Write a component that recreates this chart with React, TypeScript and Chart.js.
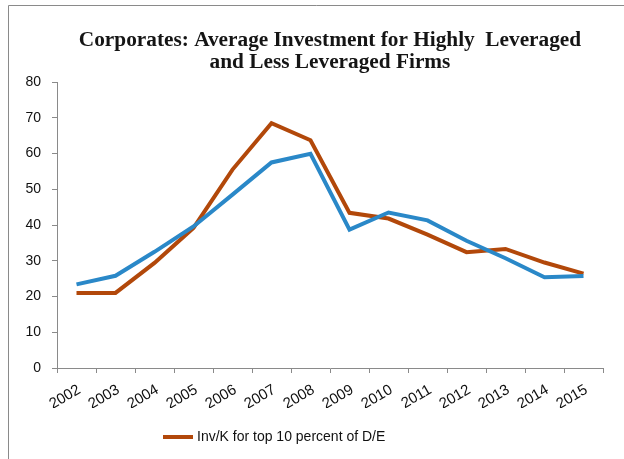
import React, { useEffect, useRef } from "react";
import { Chart, registerables } from "chart.js";

Chart.register(...registerables);

const years = ["2002", "2003", "2004", "2005", "2006", "2007", "2008", "2009", "2010", "2011", "2012", "2013", "2014", "2015"];
const topTenDE = [21.0, 21.0, 29.4, 39.2, 55.5, 68.5, 63.7, 43.4, 41.8, 37.3, 32.4, 33.3, 29.5, 26.4];
const otherDE = [23.4, 25.8, 32.5, 39.6, 48.5, 57.5, 59.9, 38.7, 43.5, 41.3, 35.6, 30.7, 25.4, 25.7];
const yMin = 0;
const yMax = 80;
const yStep = 10;
const titleLines = ["Corporates: Average Investment for Highly  Leveraged", "and Less Leveraged Firms"];
const topLabel = "Inv/K for top 10 percent of D/E";
const otherLabel = "Inv/K for remaining firms";

const ORANGE = "#B2480A";
const BLUE = "#2A88C8";
const AXIS = "#8A8A8A";
const FAMILY = "'Liberation Sans', Arial, sans-serif";

const decorPlugin = {
  id: "decor",
  afterDraw(chart: any) {
    const ctx = chart.ctx;
    ctx.save();
    // frame
    ctx.strokeStyle = AXIS;
    ctx.lineWidth = 1;
    ctx.beginPath();
    ctx.moveTo(8.5, 459);
    ctx.lineTo(8.5, 5.5);
    ctx.lineTo(624, 5.5);
    ctx.stroke();
    // title
    const cx = (chart.chartArea.left + chart.chartArea.right) / 2;
    ctx.fillStyle = "#151515";
    ctx.font = "bold 21.3px 'Liberation Serif', 'Times New Roman', serif";
    ctx.textAlign = "center";
    ctx.textBaseline = "middle";
    ctx.fillText(titleLines[0], cx, 40);
    ctx.fillText(titleLines[1], cx, 62);
    // legend
    ctx.fillStyle = ORANGE;
    ctx.fillRect(163, 435, 30, 4);
    ctx.fillStyle = "#111";
    ctx.font = "14px " + FAMILY;
    ctx.textAlign = "left";
    ctx.fillText(topLabel, 197, 437);
    ctx.restore();
  },
};

export default function App() {
  const ref = useRef<HTMLCanvasElement | null>(null);
  useEffect(() => {
    if (!ref.current) return;
    const chart = new Chart(ref.current, {
      type: "line",
      data: {
        labels: years,
        datasets: [
          { label: otherLabel, data: otherDE, borderColor: BLUE, backgroundColor: BLUE, borderWidth: 4, pointRadius: 0, tension: 0 },
          { label: topLabel, data: topTenDE, borderColor: ORANGE, backgroundColor: ORANGE, borderWidth: 4, pointRadius: 0, tension: 0 },
        ],
      },
      options: {
        animation: false,
        responsive: false,
        layout: { padding: { left: 0, right: 21, top: 82, bottom: 51 } },
        plugins: { legend: { display: false }, title: { display: false }, tooltip: { enabled: false } },
        scales: {
          x: {
            type: "category",
            offset: true,
            grid: { offset: true, drawOnChartArea: false, drawTicks: true, tickLength: 5, color: AXIS },
            border: { color: AXIS },
            ticks: { autoSkip: false, minRotation: 30, maxRotation: 30, color: "#111", font: { family: FAMILY, size: 15 }, padding: 8, labelOffset: 3 },
            afterFit: (s: any) => { s.height = 40; },
          },
          y: {
            min: yMin,
            max: yMax,
            grid: { drawOnChartArea: false, drawTicks: true, tickLength: 5, color: AXIS },
            border: { color: AXIS },
            ticks: { stepSize: yStep, color: "#111", font: { family: FAMILY, size: 14 }, padding: 11 },
            afterFit: (s: any) => { s.width = 57; },
          },
        },
      },
      plugins: [decorPlugin],
    });
    return () => chart.destroy();
  }, []);
  return (
    <div style={{ position: "absolute", left: 0, top: 0, width: 624, height: 459, background: "#fff" }}>
      <canvas ref={ref} width={624} height={459} />
    </div>
  );
}
